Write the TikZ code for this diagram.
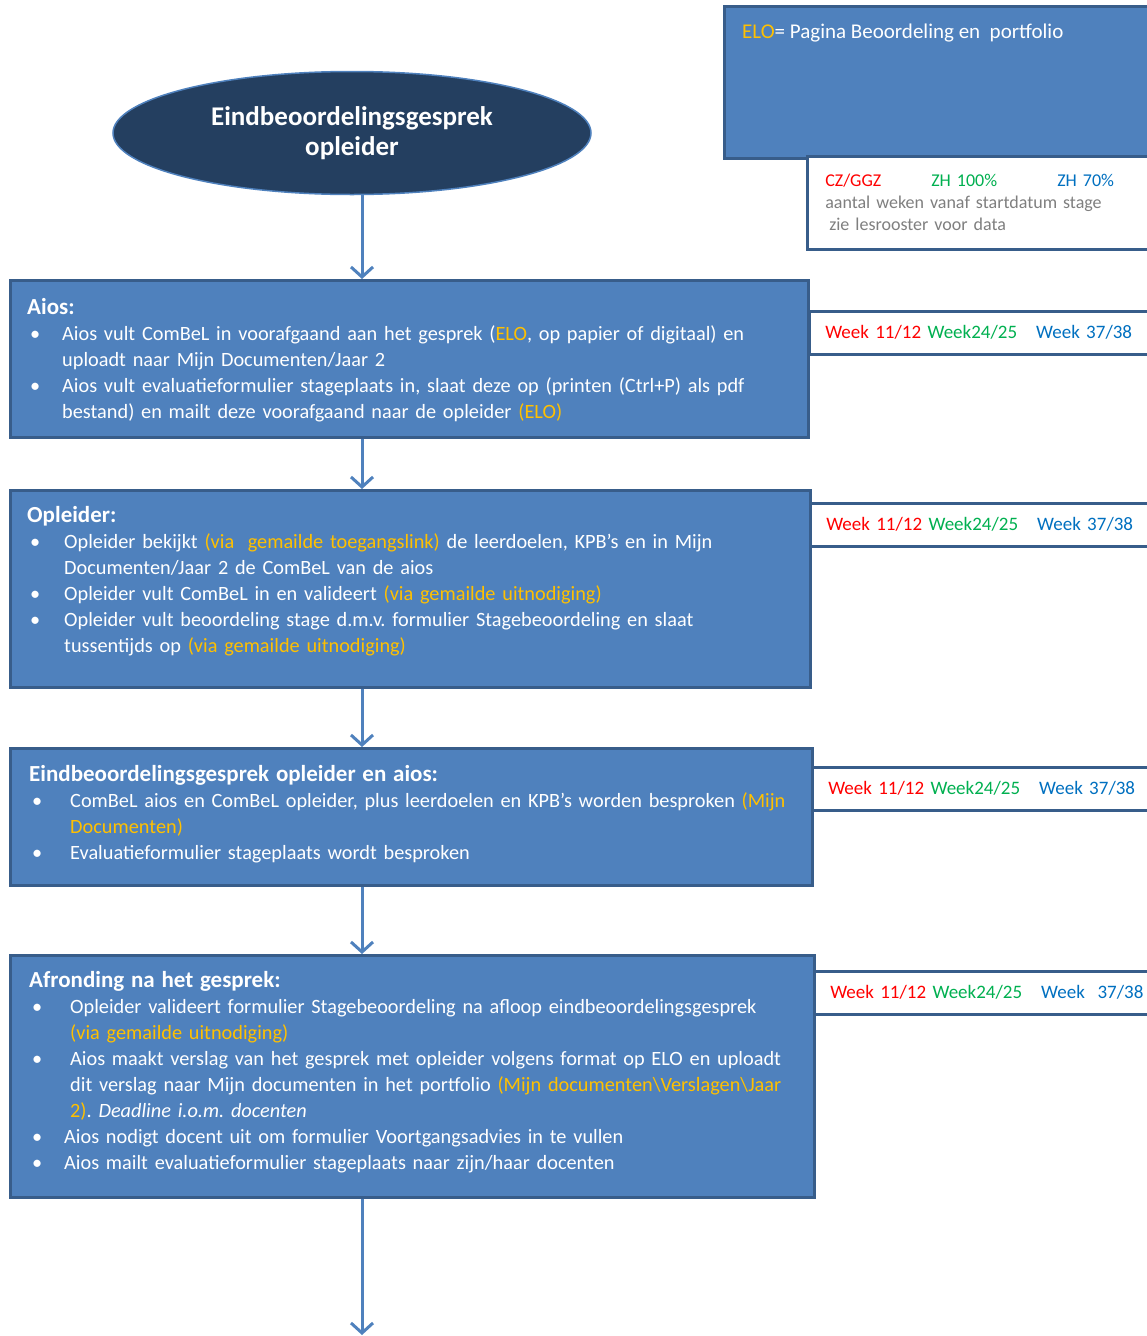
\documentclass[tikz,border=0pt]{standalone}
\usepackage{fontspec}
\setmainfont{Carlito}
\usepackage{tikz}
\usetikzlibrary{shapes.geometric, arrows.meta, positioning}
\frenchspacing

\definecolor{boxblue}{HTML}{4F81BD}
\definecolor{boxedge}{HTML}{385D8A}
\definecolor{navy}{HTML}{243F60}
\definecolor{gold}{HTML}{FFC000}
\definecolor{wkred}{HTML}{FF0000}
\definecolor{wkgreen}{HTML}{00B050}
\definecolor{wkblue}{HTML}{0070C0}
\definecolor{legendgrey}{HTML}{7F7F7F}

% gele tekst en opsommingsteken
\newcommand{\geel}[1]{{\color{gold}#1}}
\newcommand{\bitem}[2][35]{\par\noindent\hangindent=#1pt\hangafter=1\makebox[#1pt][l]{\hspace{3pt}\textbullet}#2}
\newcommand{\kop}[1]{{\bfseries\fontsize{23}{26}\selectfont #1}}

\begin{document}
\begin{tikzpicture}[
		x=1pt, y=1pt,
		stepbox/.style={rectangle, draw=boxedge, fill=boxblue, line width=2.5pt,
			anchor=north west, inner sep=0pt},
		boxtext/.style={anchor=north west, inner sep=0pt, text width=790pt, align=left,
			text=white, font=\fontsize{20.3}{26}\selectfont},
		weekbox/.style={rectangle, draw=boxedge, fill=white, line width=2.5pt,
			anchor=north west, text width=330pt, inner xsep=16pt, inner ysep=0pt,
			minimum height=43pt, align=left, font=\fontsize{19}{22}\selectfont},
		start/.style={ellipse, draw=boxblue, fill=navy, line width=1.5pt,
			minimum width=478pt, minimum height=123pt, align=center, text=white,
			font=\bfseries\fontsize{27}{30}\selectfont},
		line/.style={-{Straight Barb[length=10pt, width=22pt, line width=3pt]}, draw=boxblue, line width=3pt}
		]
		\clip (0,0) rectangle (1147,-1336);
		
		% 1. Legenda rechtsboven
		\node[stepbox, minimum width=440pt, minimum height=152pt] (elo) at (723,-5) {};
		\node[anchor=west, inner sep=0pt, text=white, font=\fontsize{21}{24}\selectfont] (elotxt)
		at (742,-33) {\geel{ELO}= Pagina Beoordeling en\ \ portfolio};
		\node[weekbox, minimum height=93pt, inner xsep=18pt, text width=330pt,
			font=\fontsize{18}{22}\selectfont] (legenda) at (806,-155)
		{\makebox[106pt][l]{\color{wkred}CZ/GGZ}\makebox[126pt][l]{\color{wkgreen}ZH 100\%}{\color{wkblue}ZH 70\%}\\
			{\color{legendgrey}aantal weken vanaf startdatum stage}\\
			{\color{legendgrey}\hspace{4pt}zie lesrooster voor data}};
		
		% 2. Startpunt
		\node[start] (start) at (352,-133) {Eindbeoordelingsgesprek\\opleider};
		\coordinate (kolom) at (362,0);
		
		% 3. Stappen
		\node[stepbox, minimum width=798pt, minimum height=157pt] (aios) at (9,-279) {};
		\node[boxtext] (aiostxt) at (27,-298)
		{\kop{Aios:}
			\bitem[35]{Aios vult ComBeL in voorafgaand aan het gesprek (\geel{ELO}, op papier of digitaal) en\newline uploadt naar Mijn Documenten/Jaar 2}
			\bitem[35]{Aios vult evaluatieformulier stageplaats in, slaat deze op (printen (Ctrl+P) als pdf\newline bestand) en mailt deze voorafgaand naar de opleider \geel{(ELO)}}\par};
		
		\node[stepbox, minimum width=800pt, minimum height=197pt] (opleider) at (9,-489) {};
		\node[boxtext] (opleidertxt) at (27,-506)
		{\kop{Opleider:}
			\bitem[37]{Opleider bekijkt \geel{(via\ \ gemailde toegangslink)} de leerdoelen, KPB’s en in Mijn\newline Documenten/Jaar 2 de ComBeL van de aios}
			\bitem[37]{Opleider vult ComBeL in en valideert \geel{(via gemailde uitnodiging)}}
			\bitem[37]{Opleider vult beoordeling stage d.m.v. formulier Stagebeoordeling en slaat\newline tussentijds op \geel{(via gemailde uitnodiging)}}\par};
		
		\node[stepbox, minimum width=802pt, minimum height=137pt] (gesprek) at (9,-747) {};
		\node[boxtext] (gesprektxt) at (29,-765)
		{\kop{Eindbeoordelingsgesprek opleider en aios:}
			\bitem[41]{ComBeL aios en ComBeL opleider, plus leerdoelen en KPB’s worden besproken \geel{(Mijn\newline Documenten)}}
			\bitem[41]{Evaluatieformulier stageplaats wordt besproken}\par};
		
		\node[stepbox, minimum width=804pt, minimum height=242pt] (afronding) at (9,-954) {};
		\node[boxtext] (afrondingtxt) at (29,-971)
		{\kop{Afronding na het gesprek:}
			\bitem[41]{Opleider valideert formulier Stagebeoordeling na afloop eindbeoordelingsgesprek\newline \geel{(via gemailde uitnodiging)}}
			\bitem[41]{Aios maakt verslag van het gesprek met opleider volgens format op ELO en uploadt\newline dit verslag naar Mijn documenten in het portfolio \geel{(Mijn documenten\textbackslash Verslagen\textbackslash Jaar\newline 2)}. \textit{Deadline i.o.m. docenten}}
			\bitem[35]{Aios nodigt docent uit om formulier Voortgangsadvies in te vullen}
			\bitem[35]{Aios mailt evaluatieformulier stageplaats naar zijn/haar docenten}\par};
		
		% 4. Weken per stap
		\node[weekbox] (week1) at (808,-310)
		{{\color{wkred}Week 11/12} {\color{wkgreen}Week24/25}\ \ \ {\color{wkblue}Week 37/38}};
		\node[weekbox] (week2) at (809,-502)
		{{\color{wkred}Week 11/12} {\color{wkgreen}Week24/25}\ \ \ {\color{wkblue}Week 37/38}};
		\node[weekbox] (week3) at (811,-766)
		{{\color{wkred}Week 11/12} {\color{wkgreen}Week24/25}\ \ \ {\color{wkblue}Week 37/38}};
		\node[weekbox] (week4) at (813,-970)
		{{\color{wkred}Week 11/12} {\color{wkgreen}Week24/25}\ \ \ {\color{wkblue}Week\ \ 37/38}};
		
		% 5. Verbindingen
		\coordinate (einde) at (362,-1335);
		\draw[line] (kolom |- start.south) -- (kolom |- aios.north);
		\draw[line] (kolom |- aios.south) -- (kolom |- opleider.north);
		\draw[line] (kolom |- opleider.south) -- (kolom |- gesprek.north);
		\draw[line] (kolom |- gesprek.south) -- (kolom |- afronding.north);
		\draw[line] (kolom |- afronding.south) -- (einde);
		
	\end{tikzpicture}
\end{document}
